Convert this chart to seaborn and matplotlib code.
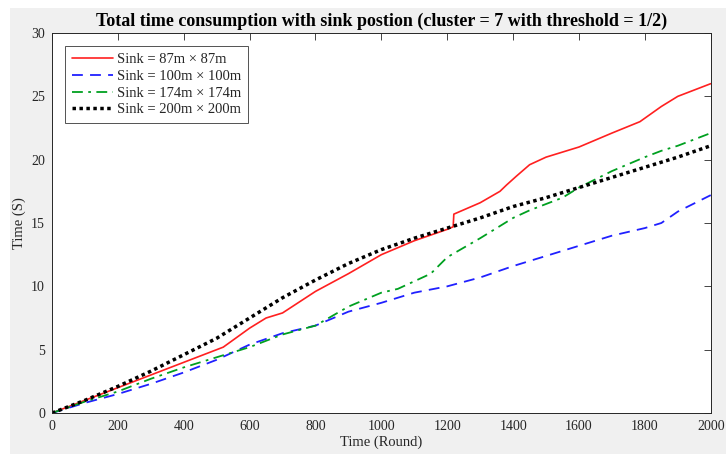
import matplotlib
matplotlib.use("Agg")
import matplotlib.pyplot as plt
from matplotlib.patches import Rectangle
import seaborn as sns
import pandas as pd

rounds_red = [0, 100, 200, 300, 400, 500, 520, 600, 650, 700, 800, 900, 1000, 1100, 1200, 1218, 1220, 1300, 1360, 1380, 1410, 1450, 1500, 1600, 1700, 1785, 1850, 1900, 2000]
time_red = [0, 1.0, 2.0, 3.0, 4.0, 5.0, 5.2, 6.7, 7.5, 7.9, 9.6, 11.0, 12.5, 13.6, 14.5, 14.7, 15.7, 16.6, 17.5, 18.0, 18.7, 19.6, 20.2, 21.0, 22.1, 23.0, 24.2, 25.0, 26.0]

rounds_blue = [0, 100, 200, 300, 400, 500, 600, 700, 800, 900, 1000, 1100, 1200, 1300, 1400, 1500, 1600, 1700, 1800, 1850, 1900, 2000]
time_blue = [0, 0.8, 1.5, 2.3, 3.2, 4.2, 5.4, 6.3, 6.9, 8.0, 8.7, 9.5, 10.0, 10.7, 11.6, 12.4, 13.2, 14.0, 14.6, 15.0, 15.9, 17.2]

rounds_green = [0, 100, 200, 300, 400, 500, 600, 700, 800, 900, 1000, 1050, 1100, 1150, 1200, 1300, 1350, 1400, 1450, 1500, 1550, 1600, 1700, 1800, 1850, 1900, 2000]
time_green = [0, 0.9, 1.7, 2.7, 3.6, 4.4, 5.2, 6.2, 6.9, 8.4, 9.5, 9.8, 10.4, 11.0, 12.3, 13.8, 14.6, 15.4, 16.0, 16.5, 17.0, 17.8, 19.1, 20.2, 20.7, 21.1, 22.1]

rounds_black = [0, 100, 200, 300, 400, 500, 600, 700, 800, 900, 1000, 1100, 1200, 1300, 1400, 1500, 1600, 1700, 1800, 1900, 2000]
time_black = [0, 1.0, 2.1, 3.3, 4.6, 5.9, 7.5, 9.1, 10.5, 11.8, 12.9, 13.8, 14.6, 15.4, 16.3, 17.0, 17.8, 18.6, 19.4, 20.2, 21.1]

labels = ["Sink = 87m \u00d7 87m", "Sink = 100m \u00d7 100m", "Sink = 174m \u00d7 174m", "Sink = 200m \u00d7 200m"]
xticks = [0, 200, 400, 600, 800, 1000, 1200, 1400, 1600, 1800, 2000]
yticks = [0, 5, 10, 15, 20, 25, 30]

sns.set_theme(style="white")
plt.rcParams['font.family'] = ['Liberation Serif', 'DejaVu Serif']

fig = plt.figure(figsize=(7.26, 4.54), dpi=100, facecolor="white")
fig.patches.append(Rectangle((10 / 726, 0), 1 - 10 / 726, 1 - 8 / 454,
                             transform=fig.transFigure, facecolor="#f0f0f0",
                             edgecolor="none", zorder=-10))
ax = fig.add_axes([0.0716, 0.0903, 0.9074, 0.837])
ax.set_zorder(5)
ax.set_facecolor("white")

series = [
    (rounds_red, time_red, "#ff2020", "-", 1.2),
    (rounds_blue, time_blue, "#2020ff", (0, (6, 4)), 1.3),
    (rounds_green, time_green, "#00a020", (0, (6, 3, 1.5, 3)), 1.3),
    (rounds_black, time_black, "black", (0, (1, 1)), 2.5),
]
for (rx, ty, c, ls, lw), lab in zip(series, labels):
    df = pd.DataFrame({"Round": rx, "Time": ty})
    sns.lineplot(data=df, x="Round", y="Time", ax=ax, color=c, linestyle=ls,
                 linewidth=lw, label=lab, sort=False, estimator=None)

ax.set_xlim(0, 2000)
ax.set_ylim(0, 30)
ax.set_xticks(xticks)
ax.set_yticks(yticks)
ax.tick_params(direction="in", top=True, right=True, length=5, width=0.6,
               labelsize=10, colors="#262626", pad=5)
for s in ax.spines.values():
    s.set_color("#262626")
    s.set_linewidth(0.7)
ax.set_xlabel("Time (Round)", fontsize=10.5, color="#262626", labelpad=2)
ax.set_ylabel("Time (S)", fontsize=10.5, color="#262626", labelpad=4)
ax.set_title("Total time consumption with sink postion (cluster = 7 with threshold = 1/2)",
             fontsize=13, fontweight="bold", color="black", pad=5)
leg = ax.legend(loc="upper left", fontsize=10.5, frameon=True, fancybox=False,
                edgecolor="#262626", handlelength=2.8, handletextpad=0.3,
                borderpad=0.45, labelspacing=0.25, borderaxespad=0.9)
leg.get_frame().set_linewidth(0.7)

fig.savefig("out.png", dpi=100, facecolor=fig.get_facecolor())
